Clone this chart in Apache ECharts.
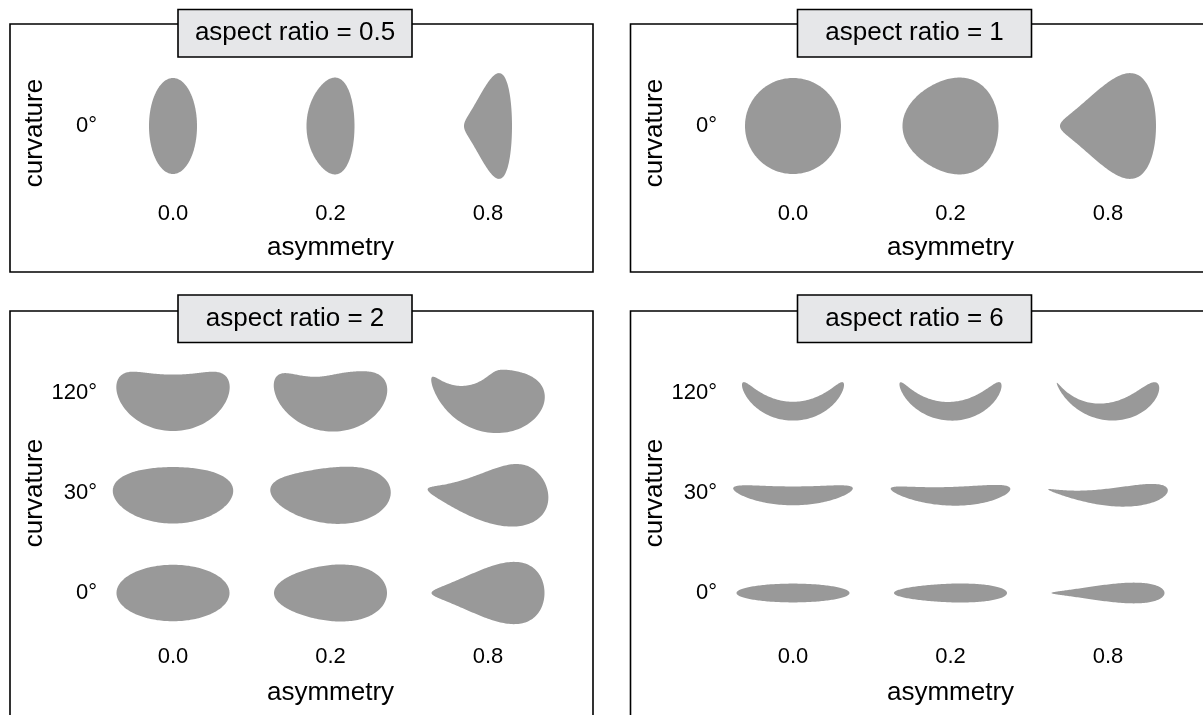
<!DOCTYPE html>
<html>
<head>
<meta charset="utf-8">
<script src="https://cdn.jsdelivr.net/npm/echarts@6/dist/echarts.min.js"></script>
<style>
html,body{margin:0;padding:0;background:#fff;}
#chart{width:1203px;height:715px;}
</style>
</head>
<body>
<div id="chart"></div>
<script>
// ---- data ----
const aspectRatios = [0.5, 1, 2, 6];
const asymmetryLabels = ['0.0', '0.2', '0.8'];
const asymmetryValues = [0.0, 0.2, 0.8];
const curvatureLabelsTop = ['0°'];
const curvatureValuesTop = [0];
const curvatureLabelsBottom = ['0°', '30°', '120°'];
const curvatureValuesBottom = [0, 30, 120];
const panelTitles = aspectRatios.map(a => 'aspect ratio = ' + a);

// ---- layout / style ----
const FONT = '"Liberation Sans", Arial, Helvetica, sans-serif';
const FILL = '#999999';
const panels = [
  {grid: {left: 173, top: 52, width: 315, height: 148}, size: 96, labels: curvatureLabelsTop, values: curvatureValuesTop,
   border: [10, 24, 583, 248], box: [178, 9.5, 234, 47.5], nameGapX: 35, padY: [0, 14, 0, 0]},
  {grid: {left: 793, top: 52, width: 315, height: 148}, size: 96, labels: curvatureLabelsTop, values: curvatureValuesTop,
   border: [630.5, 24, 620, 248], box: [797.5, 9.5, 234, 47.5], nameGapX: 35, padY: [0, 14, 0, 0]},
  {grid: {left: 173, top: 343, width: 315, height: 300}, size: 113, labels: curvatureLabelsBottom, values: curvatureValuesBottom,
   border: [10, 311, 583, 500], box: [178, 295, 234, 47.5], nameGapX: 37, padY: [0, 0, 0, 0]},
  {grid: {left: 793, top: 343, width: 315, height: 300}, size: 113, labels: curvatureLabelsBottom, values: curvatureValuesBottom,
   border: [630.5, 311, 620, 500], box: [797.5, 295, 234, 47.5], nameGapX: 37, padY: [0, 0, 0, 0]}
];

// asymmetric width profile along the long axis (u in [-1, 1]); tip at u = -1 slightly rounded
function profile(u, s) {
  const tip = Math.pow((1 - u) / 2, 6);
  return Math.sqrt(Math.max(0, 1 - u * u)) * (1 + s * u + 0.2 * s * tip);
}

function shapePoints(aspect, asym, curvDeg, S) {
  let A, B;
  if (aspect >= 1) { A = S / 2; B = S / (2 * aspect); }
  else { B = S / 2; A = S * aspect / 2; }
  let gmax = 0;
  for (let i = 0; i <= 400; i++) gmax = Math.max(gmax, profile(-1 + 2 * i / 400, asym));
  const norm = Math.sqrt(gmax);
  const N = 200;
  const pts = [];
  const theta = curvDeg * Math.PI / 180;
  const R = theta > 0 ? 1.07 * (2 * A) / theta : 0;
  for (let k = 0; k < N; k++) {
    const t = 2 * Math.PI * k / N;
    const u = Math.cos(t);
    const x = A * u;
    const y = B * Math.sign(Math.sin(t)) * profile(u, asym) / norm;
    let px, py;
    if (theta > 0) {
      const phi = u * theta / 2;
      px = (R - y) * Math.sin(phi);
      py = R - (R - y) * Math.cos(phi);
    } else { px = x; py = y; }
    pts.push([px, -py]);
  }
  let minX = Infinity, maxX = -Infinity, minY = Infinity, maxY = -Infinity;
  pts.forEach(p => { minX = Math.min(minX, p[0]); maxX = Math.max(maxX, p[0]); minY = Math.min(minY, p[1]); maxY = Math.max(maxY, p[1]); });
  const sag = theta > 0 ? R * (1 - Math.cos(theta / 2)) : 0;
  const dx = -(minX + maxX) / 2;
  const dy = -(minY + maxY) / 2 + 0.29 * sag;
  return pts.map(p => [p[0] + dx, p[1] + dy]);
}

function makeRenderer(S) {
  return function (params, api) {
    const c = api.coord([api.value(0), api.value(1)]);
    const pts = shapePoints(api.value(2), api.value(3), api.value(4), S).map(p => [p[0] + c[0], p[1] + c[1]]);
    return {type: 'polygon', shape: {points: pts}, style: {fill: FILL}};
  };
}

function buildData(aspect, curvValues) {
  const out = [];
  curvValues.forEach((cv, yi) => {
    asymmetryValues.forEach((s, xi) => out.push([xi, yi, aspect, s, cv]));
  });
  return out;
}

const grids = [], xAxes = [], yAxes = [], series = [], graphics = [];
panels.forEach((p, i) => {
  grids.push(Object.assign({containLabel: false}, p.grid));
  xAxes.push({
    type: 'category', gridIndex: i, data: asymmetryLabels, boundaryGap: false,
    axisLine: {show: false}, axisTick: {show: false}, splitLine: {show: false},
    axisLabel: {fontSize: 22, color: '#000', fontFamily: FONT, margin: 3},
    name: 'asymmetry', nameLocation: 'middle', nameGap: p.nameGapX,
    nameTextStyle: {fontSize: 26, color: '#000', fontFamily: FONT}
  });
  yAxes.push({
    type: 'category', gridIndex: i, data: p.labels, boundaryGap: true,
    axisLine: {show: false}, axisTick: {show: false}, splitLine: {show: false},
    axisLabel: {fontSize: 22, color: '#000', fontFamily: FONT, margin: 76},
    name: 'curvature', nameLocation: 'middle', nameGap: 125, nameRotate: 90,
    nameTextStyle: {fontSize: 26, color: '#000', fontFamily: FONT, padding: p.padY}
  });
  series.push({
    type: 'custom', xAxisIndex: i, yAxisIndex: i, coordinateSystem: 'cartesian2d',
    encode: {x: 0, y: 1}, clip: false, silent: true,
    renderItem: makeRenderer(p.size),
    data: buildData(aspectRatios[i], p.values)
  });
  const b = p.border;
  graphics.push({type: 'rect', z: 1, silent: true, shape: {x: b[0], y: b[1], width: b[2], height: b[3]},
    style: {fill: 'none', stroke: '#000', lineWidth: 1.6}});
  const bx = p.box;
  graphics.push({type: 'rect', z: 2, silent: true, shape: {x: bx[0], y: bx[1], width: bx[2], height: bx[3]},
    style: {fill: '#e6e7e9', stroke: '#000', lineWidth: 1.6}});
  graphics.push({type: 'text', z: 3, silent: true, x: bx[0] + bx[2] / 2, y: bx[1] + bx[3] / 2,
    style: {text: panelTitles[i], fontSize: 26, fontFamily: FONT, fill: '#000', align: 'center', verticalAlign: 'middle'}});
});

const chart = echarts.init(document.getElementById('chart'), null, {renderer: 'canvas'});
chart.setOption({
  animation: false,
  backgroundColor: '#ffffff',
  textStyle: {fontFamily: FONT},
  grid: grids, xAxis: xAxes, yAxis: yAxes, series: series,
  graphic: graphics
});
</script>
</body>
</html>
